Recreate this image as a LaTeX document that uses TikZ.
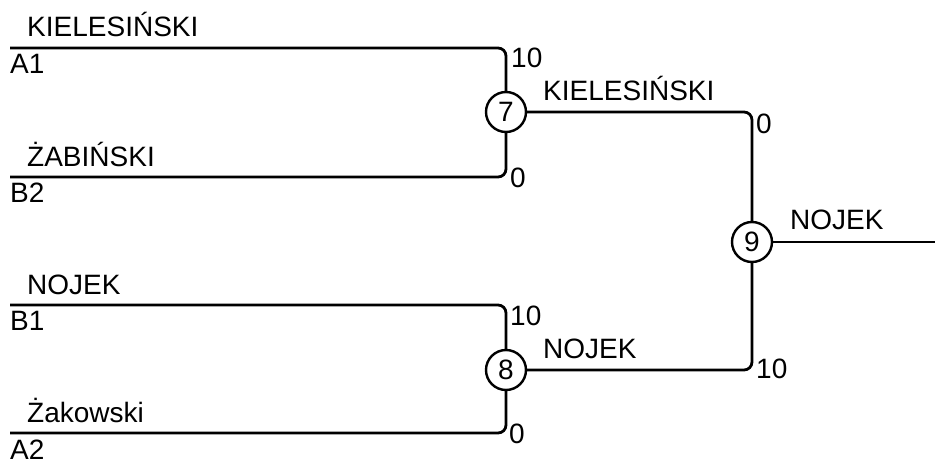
\documentclass[tikz,border=0pt]{standalone}
\usepackage{fontspec}
\setmainfont{Liberation Sans}
\begin{document}
\begin{tikzpicture}[x=1pt,y=-1pt,
  wire/.style={line width=2.8pt,rounded corners=8pt},
  game/.style={circle,draw,line width=2.4pt,minimum size=40pt,inner sep=0pt,font=\fontsize{28}{32}\selectfont},
  lbl/.style={anchor=base west,inner sep=0pt,font=\fontsize{28}{32}\selectfont}]
\useasboundingbox (0,0) rectangle (935,460);
% games
\node[game] (c7) at (506,112) {7};
\node[game] (c8) at (506,370) {8};
\node[game] (c9) at (752,242) {9};
% coordinates
\coordinate (a1s) at (10,48);  \coordinate (a1c) at (506,48);
\coordinate (b2s) at (10,177); \coordinate (b2c) at (506,177);
\coordinate (b1s) at (10,305); \coordinate (b1c) at (506,305);
\coordinate (a2s) at (10,433); \coordinate (a2c) at (506,433);
\coordinate (k1) at (752,112); \coordinate (n1) at (752,370);
\coordinate (out) at (935,242);
% wires
\draw[wire] (a1s) -- (a1c) -- (c7);
\draw[wire] (b2s) -- (b2c) -- (c7);
\draw[wire] (b1s) -- (b1c) -- (c8);
\draw[wire] (a2s) -- (a2c) -- (c8);
\draw[wire] (c7) -- (k1) -- (c9);
\draw[wire] (c8) -- (n1) -- (c9);
\draw[wire] (c9) -- (out);
% left labels
\node[lbl] (t1) at (27,37) {KIELESIŃSKI};
\node[lbl] (s1) at (10,74) {A1};
\node[lbl] (t2) at (27,166) {ŻABIŃSKI};
\node[lbl] (s2) at (10,202) {B2};
\node[lbl] (t3) at (27,294) {NOJEK};
\node[lbl] (s3) at (10,330) {B1};
\node[lbl] (t4) at (27,422) {Żakowski};
\node[lbl] (s4) at (10,459) {A2};
% scores
\node[lbl] (p1) at (511,68) {10};
\node[lbl] (p2) at (510,187) {0};
\node[lbl] (p3) at (510,325) {10};
\node[lbl] (p4) at (509,443) {0};
\node[lbl] (p5) at (756,133) {0};
\node[lbl] (p6) at (756,378) {10};
% winners
\node[lbl] (w1) at (543,101) {KIELESIŃSKI};
\node[lbl] (w2) at (543,358) {NOJEK};
\node[lbl] (w3) at (790,229) {NOJEK};
\end{tikzpicture}
\end{document}
